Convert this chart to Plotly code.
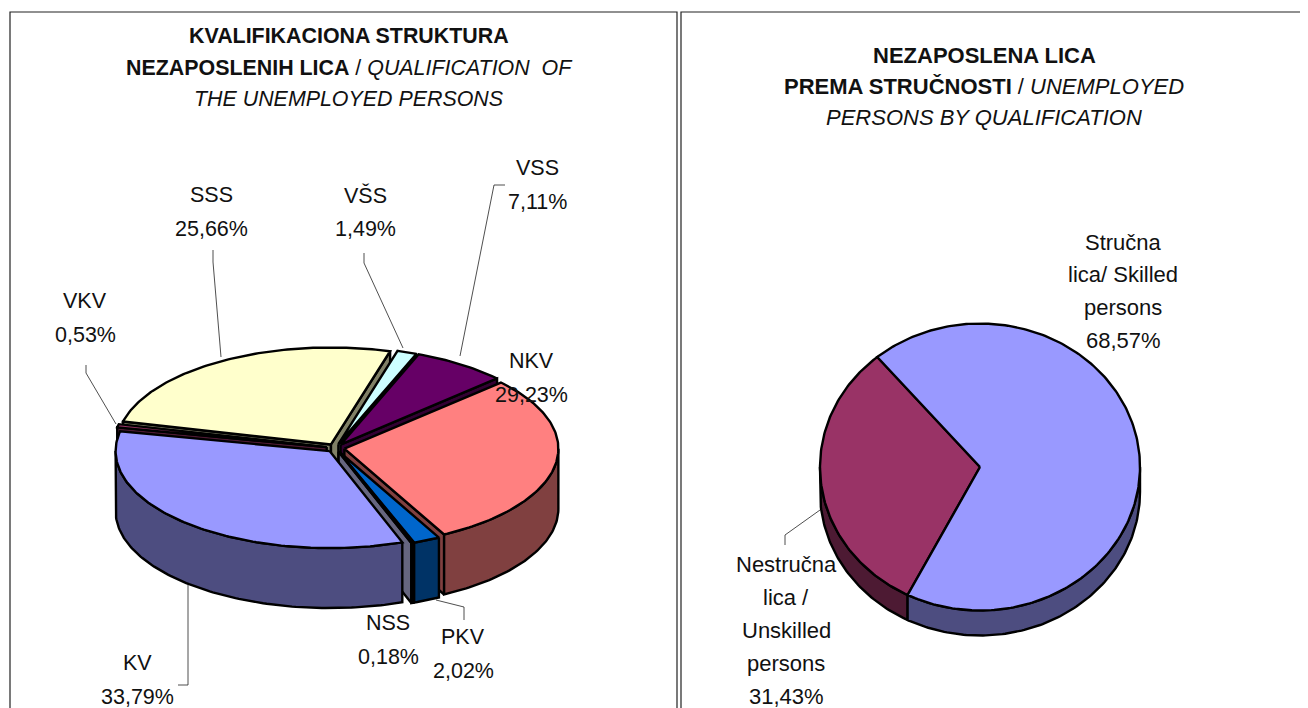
import numpy as np
import plotly.graph_objects as go

# ---------- data ----------
left_labels = ["NKV", "PKV", "NSS", "KV", "VKV", "SSS", "VŠS", "VSS"]
left_values = [29.23, 2.02, 0.18, 33.79, 0.53, 25.66, 1.49, 7.11]
right_labels = ["Nestručna lica / Unskilled persons", "Stručna lica/ Skilled persons"]
right_values = [31.43, 68.57]

# ---------- styles ----------
left_top = ["#FF8080", "#0066CC", "#CCCCFF", "#9999FF", "#993366", "#FFFFCC", "#CCFFFF", "#660066"]
left_side = ["#804040", "#003366", "#666680", "#4D4D80", "#4D1A33", "#808066", "#668080", "#330033"]
right_top = ["#993366", "#9999FF"]
right_side = ["#4D1A33", "#4D4D80"]
FONT = "Liberation Sans"
EDGE = 2.4


def pts(cx, cy, rx, ry, a0, a1, dy=0.0, n=None):
    n = n or max(2, int(abs(a1 - a0)) + 2)
    t = np.radians(np.linspace(a0, a1, n))
    return cx + rx * np.sin(t), cy - ry * np.cos(t) + dy


def poly(x, y, color, name):
    return go.Scatter(x=np.append(x, x[0]), y=np.append(y, y[0]), mode="lines", fill="toself",
                      fillcolor=color, line=dict(color="#000000", width=EDGE),
                      hoverinfo="text", text=name, showlegend=False)


def wedge_traces(i, a0, a1, geo, top, side, names):
    cx, cy, rx, ry, depth, ex = geo
    mid = np.radians((a0 + a1) / 2)
    ax = cx + ex * np.sin(mid)
    ay = cy - ex * (ry / rx) * np.cos(mid)
    out = []
    nm = names[i]
    # radial cut faces, only those turned towards the viewer
    if ex > 0:
        for ang, lo, hi in ((a0, 180, 360), (a1, 0, 180)):
            m = ang % 360
            if lo < m < hi:
                ex_, ey_ = pts(ax, ay, rx, ry, ang, ang, n=1)
                out.append(poly(np.array([ax, ex_[0], ex_[0], ax]),
                                np.array([ay, ey_[0], ey_[0] + depth, ay + depth]), side[i], nm))
    # outer rim on the front half (also when the slice wraps past a full turn)
    for off in (0, 360):
        lo, hi = max(a0, 90 + off), min(a1, 270 + off)
        if hi > lo:
            xa, ya = pts(ax, ay, rx, ry, lo, hi)
            xb, yb = pts(ax, ay, rx, ry, hi, lo, dy=depth)
            out.append(poly(np.r_[xa, xb], np.r_[ya, yb], side[i], nm))
    # top surface
    xa, ya = pts(ax, ay, rx, ry, a0, a1)
    out.append(poly(np.r_[ax, xa], np.r_[ay, ya], top[i], nm))
    return out


def spans(values, start):
    total = sum(values)
    res, a = [], start
    for v in values:
        b = a + v / total * 360
        res.append((a, b))
        a = b
    return res


fig = go.Figure()

# left pie
GEO_L = (335.5, 448, 214, 97, 60, 9)
sp = spans(left_values, 47)
for i in [5, 4, 6, 7, 0, 1, 2, 3]:
    for t in wedge_traces(i, sp[i][0], sp[i][1], GEO_L, left_top, left_side, left_labels):
        fig.add_trace(t)

# right pie
GEO_R = (980, 467, 160, 143.5, 25, 0)
sr = spans(right_values, 206.9)
for i in [0, 1]:
    for t in wedge_traces(i, sr[i][0], sr[i][1], GEO_R, right_top, right_side, right_labels):
        fig.add_trace(t)

# ---------- frames and leader lines ----------
shapes = [
    dict(type="rect", x0=10, x1=677, y0=12, y1=760, line=dict(color="#222222", width=1.2)),
    dict(type="rect", x0=681, x1=1340, y0=12, y1=760, line=dict(color="#222222", width=1.2)),
]
leaders = [
    [(86, 365), (86, 373), (116, 424)],
    [(213, 250), (213, 262), (221, 357)],
    [(364, 253), (364, 263), (403, 348)],
    [(505, 185), (494, 185), (460, 356)],
    [(188, 585), (188, 685), (178, 685)],
    [(436, 600), (464, 607), (464, 620)],
    [(820, 510), (785, 535), (785, 545)],
]
for pl in leaders:
    d = "M " + " L ".join(f"{x} {y}" for x, y in pl)
    shapes.append(dict(type="path", path=d, line=dict(color="#222222", width=0.8)))

# ---------- texts ----------
def pct(v):
    return f"{v:.2f}".replace(".", ",") + "%"


label_pos = {
    "NKV": (531, 361), "PKV": (463, 637), "NSS": (388, 623), "KV": (137, 663),
    "VKV": (85, 301), "SSS": (211, 195), "VŠS": (365, 195), "VSS": (537, 168),
}
annos = []


def txt(x, y, s, size=21.5):
    annos.append(dict(x=x, y=y, text=s, showarrow=False, xref="x", yref="y",
                      font=dict(family=FONT, size=size, color="#111111"),
                      xanchor="center", yanchor="middle"))


for name, val in zip(left_labels, left_values):
    x, y = label_pos[name]
    txt(x, y, name)
    txt(x, y + 33.5, pct(val))

for k, line in enumerate(["Nestručna", "lica /", "Unskilled", "persons", pct(right_values[0])]):
    txt(786, 564 + k * 33, line, size=22)
for k, line in enumerate(["Stručna", "lica/ Skilled", "persons", pct(right_values[1])]):
    txt(1123, 242 + k * 32.7, line, size=22)

title_left = ["<b>KVALIFIKACIONA STRUKTURA</b>",
              "<b>NEZAPOSLENIH LICA</b> / <i>QUALIFICATION  OF</i>",
              "<i>THE UNEMPLOYED PERSONS</i>"]
title_right = ["<b>NEZAPOSLENA LICA</b>",
               "<b>PREMA STRUČNOSTI</b> / <i>UNEMPLOYED</i>",
               "<i>PERSONS BY QUALIFICATION</i>"]
for k, line in enumerate(title_left):
    txt(349, 36 + k * 31.5, line, size=21.4)
for k, line in enumerate(title_right):
    txt(984, 55 + k * 31, line, size=22)

# the page sits 8 px inside the window, so the axes start at 8 and window pixels stay data units
fig.update_layout(
    width=1300, height=700, margin=dict(l=0, r=0, t=0, b=0),
    paper_bgcolor="white", plot_bgcolor="white", showlegend=False,
    xaxis=dict(range=[8, 1308], visible=False, fixedrange=True),
    yaxis=dict(range=[708, 8], visible=False, fixedrange=True),
    shapes=shapes, annotations=annos,
)
fig.write_html("out.html")
